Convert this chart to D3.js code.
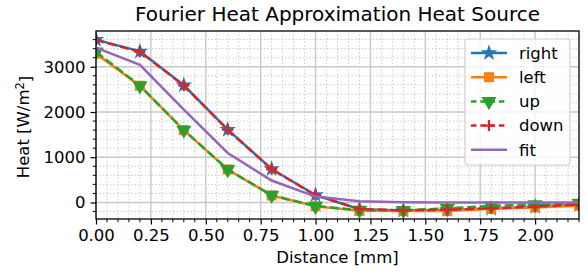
<!DOCTYPE html>
<html>
<head>
<meta charset="utf-8">
<script src="https://cdn.jsdelivr.net/npm/d3@7"></script>
<style>
  body { margin: 0; background: white; }
  text { font-family: "DejaVu Sans", sans-serif; }
</style>
</head>
<body>
<div id="chart"></div>
<script>
// Fourier heat approximation data
const distance = [0, 0.2, 0.4, 0.6, 0.8, 1.0, 1.2, 1.4, 1.6, 1.8, 2.0, 2.2];
const right = [3600, 3340, 2590, 1610, 740, 165, -150, -175, -165, -135, -95, -50];
const left  = [3290, 2580, 1600, 730, 155, -85, -185, -190, -190, -140, -110, -70];
const up    = [3330, 2580, 1600, 730, 160, -80, -170, -175, -130, -75, -45, -15];
const down  = [3590, 3330, 2585, 1605, 735, 160, -145, -172, -160, -130, -90, -45];
const fit   = [3420, 3040, 2050, 1095, 485, 130, 25, 5, 2, 2, 2, 2];
const xTicks = [0, 0.25, 0.5, 0.75, 1.0, 1.25, 1.5, 1.75, 2.0];
const yTicks = [0, 1000, 2000, 3000];

const W = 588, H = 276;
const margin = { top: 31, left: 96, right: 9, bottom: 57 };
const plotW = W - margin.left - margin.right;
const plotH = H - margin.top - margin.bottom;

const svg = d3.select('#chart').append('svg')
  .attr('width', W)
  .attr('height', H)
  .style('background-color', 'white');

const x = d3.scaleLinear().domain([0, 2.2]).range([0, plotW]);
const y = d3.scaleLinear().domain([-365, 3790]).range([plotH, 0]);

svg.append('defs').append('clipPath').attr('id', 'clip')
  .append('rect').attr('width', plotW).attr('height', plotH);

const g = svg.append('g').attr('transform', `translate(${margin.left},${margin.top})`);

// minor grid (dotted)
const xMinor = d3.range(0, 2.2001, 0.05).filter(v => Math.abs(v / 0.25 - Math.round(v / 0.25)) > 1e-6);
const yMinor = d3.range(-200, 3790, 200).filter(v => v % 1000 !== 0);
g.append('g').selectAll('line').data(xMinor).join('line')
  .attr('x1', d => x(d)).attr('x2', d => x(d)).attr('y1', 0).attr('y2', plotH)
  .attr('stroke', '#c4c4c4').attr('stroke-width', 1).attr('stroke-dasharray', '1.3,2.2');
g.append('g').selectAll('line').data(yMinor).join('line')
  .attr('y1', d => y(d)).attr('y2', d => y(d)).attr('x1', 0).attr('x2', plotW)
  .attr('stroke', '#c4c4c4').attr('stroke-width', 1).attr('stroke-dasharray', '1.3,2.2');

// major grid
g.append('g').selectAll('line').data(xTicks).join('line')
  .attr('x1', d => x(d)).attr('x2', d => x(d)).attr('y1', 0).attr('y2', plotH)
  .attr('stroke', '#c8c8c8').attr('stroke-width', 1.4);
g.append('g').selectAll('line').data(yTicks).join('line')
  .attr('y1', d => y(d)).attr('y2', d => y(d)).attr('x1', 0).attr('x2', plotW)
  .attr('stroke', '#c8c8c8').attr('stroke-width', 1.4);

// series
const series = [
  { name: 'right', values: right, color: '#1f77b4', dash: null, marker: 'star' },
  { name: 'left', values: left, color: '#ff7f0e', dash: null, marker: 'square' },
  { name: 'up', values: up, color: '#2ca02c', dash: '8.7,3.8', marker: 'tri' },
  { name: 'down', values: down, color: '#d62728', dash: '8.7,3.8', marker: 'plus' },
  { name: 'fit', values: fit, color: '#9467bd', dash: null, marker: null }
];

function markerPath(m) {
  if (m === 'star') return d3.symbol(d3.symbolStar, 85)();
  if (m === 'square') return d3.symbol(d3.symbolSquare, 100)();
  if (m === 'tri') return d3.symbol(d3.symbolTriangle, 100)();
  if (m === 'plus') return 'M-5.5,0H5.5M0,-5.5V5.5';
  return null;
}

function drawMarker(sel, s, cx, cy) {
  const p = sel.append('path')
    .attr('d', markerPath(s.marker))
    .attr('transform', `translate(${cx},${cy})` + (s.marker === 'tri' ? ' rotate(180)' : ''));
  if (s.marker === 'plus') p.attr('fill', 'none').attr('stroke', s.color).attr('stroke-width', 2.3);
  else p.attr('fill', s.color).attr('stroke', 'none');
}

const plot = g.append('g').attr('clip-path', 'url(#clip)');
const line = d3.line().x((d, i) => x(distance[i])).y(d => y(d));

series.forEach(s => {
  const sg = plot.append('g');
  sg.append('path').datum(s.values)
    .attr('d', line)
    .attr('fill', 'none')
    .attr('stroke', s.color)
    .attr('stroke-width', 2.5)
    .attr('stroke-dasharray', s.dash);
  if (s.marker) s.values.forEach((v, i) => drawMarker(sg, s, x(distance[i]), y(v)));
});

// axes
const xAxis = d3.axisBottom(x).tickValues(xTicks).tickFormat(d3.format('.2f')).tickSize(5.5).tickPadding(5);
const yAxis = d3.axisLeft(y).tickValues(yTicks).tickFormat(d3.format('d')).tickSize(5.5).tickPadding(5);

const gx = g.append('g').attr('transform', `translate(0,${plotH})`).call(xAxis);
const gy = g.append('g').call(yAxis);
[gx, gy].forEach(a => {
  a.select('.domain').remove();
  a.selectAll('line').attr('stroke', 'black').attr('stroke-width', 1.2);
  a.selectAll('text').style('font-size', '16.5px').attr('fill', 'black').style('font-family', '"DejaVu Sans"');
});

// minor ticks
g.append('g').selectAll('line').data(xMinor).join('line')
  .attr('x1', d => x(d)).attr('x2', d => x(d)).attr('y1', plotH).attr('y2', plotH + 3.2)
  .attr('stroke', 'black').attr('stroke-width', 1);
g.append('g').selectAll('line').data(yMinor).join('line')
  .attr('y1', d => y(d)).attr('y2', d => y(d)).attr('x1', 0).attr('x2', -3.2)
  .attr('stroke', 'black').attr('stroke-width', 1);

// frame
g.append('rect').attr('width', plotW).attr('height', plotH)
  .attr('fill', 'none').attr('stroke', 'black').attr('stroke-width', 1.3);

// legend
const legend_x = plotW - 114, legend_y = 8, legend_w = 105, legend_h = 126, y_incr = 24.2;
const lg = g.append('g');
lg.append('rect')
  .attr('x', legend_x).attr('y', legend_y)
  .attr('width', legend_w).attr('height', legend_h)
  .attr('rx', 3)
  .attr('fill', 'white').attr('fill-opacity', 0.8)
  .attr('stroke', '#d0d0d0').attr('stroke-width', 1.2);
series.forEach((s, i) => {
  const ly = legend_y + 14 + i * y_incr;
  lg.append('line')
    .attr('x1', legend_x + 6).attr('x2', legend_x + 42)
    .attr('y1', ly).attr('y2', ly)
    .attr('stroke', s.color).attr('stroke-width', 2.5)
    .attr('stroke-dasharray', s.dash ? '5.5,3.8' : null);
  if (s.marker) drawMarker(lg, s, legend_x + 24, ly);
  lg.append('text')
    .attr('x', legend_x + 54).attr('y', ly)
    .attr('dy', '0.35em')
    .style('font-size', '16.5px')
    .text(s.name);
});

// title and labels
svg.append('text')
  .attr('x', margin.left + plotW / 2).attr('y', 21)
  .attr('text-anchor', 'middle')
  .style('font-size', '20px')
  .text('Fourier Heat Approximation Heat Source');

svg.append('text')
  .attr('x', margin.left + plotW / 2).attr('y', 263)
  .attr('text-anchor', 'middle')
  .style('font-size', '16.5px')
  .text('Distance [mm]');

const yl = svg.append('text')
  .attr('transform', `translate(29,${margin.top + plotH / 2 + 2}) rotate(-90)`)
  .attr('text-anchor', 'middle')
  .style('font-size', '16.5px');
yl.append('tspan').text('Heat [W/m');
yl.append('tspan').attr('dy', '-0.45em').style('font-size', '11.5px').text('2');
yl.append('tspan').attr('dy', '0.45em').text(']');
</script>
</body>
</html>
